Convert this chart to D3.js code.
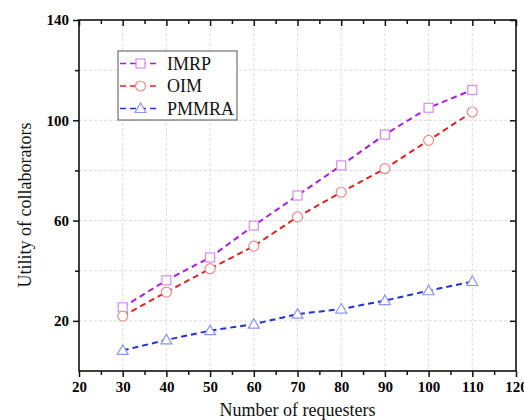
<!DOCTYPE html>
<html>
<head>
<meta charset="utf-8">
<script src="https://cdn.jsdelivr.net/npm/d3@7"></script>
<style>
  html, body { margin: 0; padding: 0; background: #fff; }
  svg { display: block; }
</style>
</head>
<body>
<div id="chart"></div>
<script>
const requesters = [30, 40, 50, 60, 70, 80, 90, 100, 110];
const imrp  = [25.4, 36.2, 45.3, 58.0, 70.0, 82.0, 94.3, 105.0, 112.1];
const oim   = [21.9, 31.5, 40.8, 49.8, 61.5, 71.3, 80.7, 92.0, 103.3];
const pmmra = [8.2, 12.4, 16.1, 18.7, 22.7, 24.7, 28.1, 32.0, 35.7];
const seriesNames = ["IMRP", "OIM", "PMMRA"];
const xTicks = [20, 30, 40, 50, 60, 70, 80, 90, 100, 110, 120];
const yTicks = [20, 60, 100, 140];
const xLabel = "Number of requesters";
const yLabel = "Utility of collaborators";

(function () {
const W = 524, H = 420;
const margin = {left: 79, right: 8, top: 20, bottom: 49};
const svg = d3.select("#chart").append("svg").attr("width", W).attr("height", H);

const x = d3.scaleLinear().domain([20, 120]).range([margin.left, W - margin.right]);
const y = d3.scaleLinear().domain([0, 140]).range([H - margin.bottom, margin.top]);

const x0 = x.range()[0], x1 = x.range()[1], y0 = y.range()[0], y1 = y.range()[1];

// gridlines
const grid = svg.append("g");
d3.range(30, 120, 10).forEach(v => {
  grid.append("line").attr("x1", x(v)).attr("x2", x(v)).attr("y1", y0).attr("y2", y1)
    .attr("stroke", "#dcdcdc").attr("stroke-width", 1).attr("stroke-dasharray", "3,2");
});
d3.range(20, 140, 20).forEach(v => {
  grid.append("line").attr("x1", x0).attr("x2", x1).attr("y1", y(v)).attr("y2", y(v))
    .attr("stroke", "#dcdcdc").attr("stroke-width", 1).attr("stroke-dasharray", "3,2");
});

const font = "'Liberation Serif', 'Times New Roman', serif";

function styleAxis(g) {
  g.select(".domain").remove();
  g.selectAll(".tick line").attr("stroke", "#111").attr("stroke-width", 1.5);
}

// bottom axis
const xMinor = d3.range(25, 120, 10);
const axB = svg.append("g").attr("transform", `translate(0,${y0})`)
  .call(d3.axisBottom(x).tickValues(xTicks).tickSize(6).tickPadding(4).tickFormat(d3.format("d")));
styleAxis(axB);
axB.selectAll("text").attr("font-family", font).attr("font-size", 15).attr("font-weight", "bold").attr("fill", "#000");
const axBm = svg.append("g").attr("transform", `translate(0,${y0})`)
  .call(d3.axisBottom(x).tickValues(xMinor).tickSize(4).tickFormat(""));
styleAxis(axBm);

// top axis (inward)
const axT = svg.append("g").attr("transform", `translate(0,${y1})`)
  .call(d3.axisBottom(x).tickValues(xTicks).tickSize(6).tickFormat(""));
styleAxis(axT);
const axTm = svg.append("g").attr("transform", `translate(0,${y1})`)
  .call(d3.axisBottom(x).tickValues(xMinor).tickSize(4).tickFormat(""));
styleAxis(axTm);

// left axis
const yMinor = [40, 80, 120];
const axL = svg.append("g").attr("transform", `translate(${x0},0)`)
  .call(d3.axisLeft(y).tickValues(yTicks).tickSize(6).tickPadding(4).tickFormat(d3.format("d")));
styleAxis(axL);
axL.selectAll("text").attr("font-family", font).attr("font-size", 15).attr("font-weight", "bold").attr("fill", "#000");
const axLm = svg.append("g").attr("transform", `translate(${x0},0)`)
  .call(d3.axisLeft(y).tickValues(yMinor).tickSize(4).tickFormat(""));
styleAxis(axLm);

// right axis (inward)
const axR = svg.append("g").attr("transform", `translate(${x1},0)`)
  .call(d3.axisLeft(y).tickValues(yTicks).tickSize(6).tickFormat(""));
styleAxis(axR);
const axRm = svg.append("g").attr("transform", `translate(${x1},0)`)
  .call(d3.axisLeft(y).tickValues(yMinor).tickSize(4).tickFormat(""));
styleAxis(axRm);

// frame
svg.append("rect").attr("x", x0).attr("y", y1).attr("width", x1 - x0).attr("height", y0 - y1)
  .attr("fill", "none").attr("stroke", "#111").attr("stroke-width", 1.6);

// axis titles
svg.append("text").attr("x", (x0 + x1) / 2).attr("y", 416).attr("text-anchor", "middle")
  .attr("font-family", font).attr("font-size", 18).attr("fill", "#111").text(xLabel);
svg.append("text").attr("transform", `translate(31,205) rotate(-90)`).attr("text-anchor", "middle")
  .attr("font-family", font).attr("font-size", 18).attr("fill", "#111").text(yLabel);

// series
const series = [
  {name: seriesNames[0], values: imrp, line: "#a81ee0", mark: "#d88cf0", shape: "square"},
  {name: seriesNames[1], values: oim, line: "#e02222", mark: "#f08a8a", shape: "circle"},
  {name: seriesNames[2], values: pmmra, line: "#2233d0", mark: "#8a96f0", shape: "triangle"}
];

function marker(g, shape, cx, cy, color) {
  if (shape === "square") {
    g.append("rect").attr("x", cx - 4.5).attr("y", cy - 4.5).attr("width", 9).attr("height", 9)
      .attr("fill", "#fff").attr("stroke", color).attr("stroke-width", 1.2);
  } else if (shape === "circle") {
    g.append("circle").attr("cx", cx).attr("cy", cy).attr("r", 5)
      .attr("fill", "#fff").attr("stroke", color).attr("stroke-width", 1.2);
  } else {
    g.append("path").attr("d", `M${cx},${cy - 5.5}L${cx + 5.5},${cy + 4}L${cx - 5.5},${cy + 4}Z`)
      .attr("fill", "#fff").attr("stroke", color).attr("stroke-width", 1.2);
  }
}

const lineGen = d3.line().x((d, i) => x(requesters[i])).y(d => y(d));
series.forEach(s => {
  svg.append("path").datum(s.values).attr("d", lineGen)
    .attr("fill", "none").attr("stroke", s.line).attr("stroke-width", 2).attr("stroke-dasharray", "6,4");
  const g = svg.append("g");
  s.values.forEach((v, i) => marker(g, s.shape, x(requesters[i]), y(v), s.mark));
});

// legend
const lg = svg.append("g");
lg.append("rect").attr("x", 118).attr("y", 51).attr("width", 119).attr("height", 69)
  .attr("fill", "#fff").attr("stroke", "#555").attr("stroke-width", 1);
series.forEach((s, i) => {
  const cy = 63.5 + i * 22.5;
  lg.append("line").attr("x1", 120).attr("x2", 160).attr("y1", cy).attr("y2", cy)
    .attr("stroke", s.line).attr("stroke-width", 1.5).attr("stroke-dasharray", "6,4");
  marker(lg, s.shape, 140.5, cy, s.mark);
  lg.append("text").attr("x", 167).attr("y", cy + 6).attr("font-family", font).attr("font-size", 18)
    .attr("fill", "#111").text(s.name);
});
})();
</script>
</body>
</html>
